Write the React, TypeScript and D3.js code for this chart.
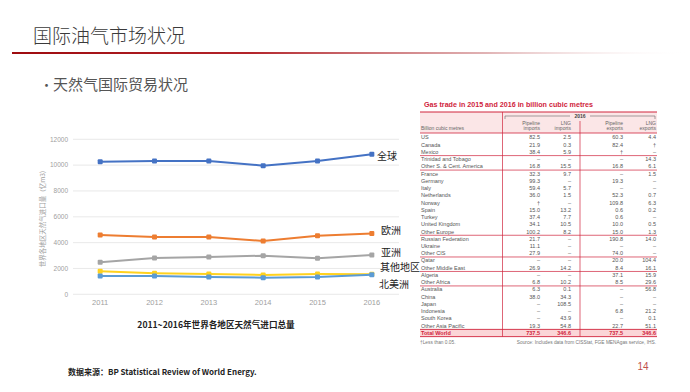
import React from "react";
import * as d3 from "d3";

const years = ["2011", "2012", "2013", "2014", "2015", "2016"];
const seriesNames = ["全球", "欧洲", "亚洲", "其他地区", "北美洲"];
const globalVals = [10270, 10320, 10320, 9960, 10320, 10840];
const europeVals = [4590, 4440, 4440, 4130, 4540, 4700];
const asiaVals = [2480, 2810, 2890, 2990, 2790, 3040];
const otherVals = [1780, 1630, 1570, 1500, 1570, 1550];
const northAmericaVals = [1420, 1420, 1340, 1290, 1340, 1520];
const yTicks = [0, 2000, 4000, 6000, 8000, 10000, 12000];

const tableRows = ["US", "Canada", "Mexico", "Trinidad and Tobago", "Other S. & Cent. America", "France", "Germany", "Italy", "Netherlands", "Norway", "Spain", "Turkey", "United Kingdom", "Other Europe", "Russian Federation", "Ukraine", "Other CIS", "Qatar", "Other Middle East", "Algeria", "Other Africa", "Australia", "China", "Japan", "Indonesia", "South Korea", "Other Asia Pacific", "Total World"];
const pipeImports = ["82.5", "21.9", "38.4", "–", "16.8", "32.3", "99.3", "59.4", "36.0", "†", "15.0", "37.4", "34.1", "100.2", "21.7", "11.1", "27.9", "–", "26.9", "–", "6.8", "6.3", "38.0", "–", "–", "–", "19.3", "737.5"];
const lngImports = ["2.5", "0.3", "5.9", "–", "15.5", "9.7", "–", "5.7", "1.5", "–", "13.2", "7.7", "10.5", "8.2", "–", "–", "–", "–", "14.2", "–", "10.2", "0.1", "34.3", "108.5", "–", "43.9", "54.8", "346.6"];
const pipeExports = ["60.3", "82.4", "†", "–", "16.8", "–", "19.3", "–", "52.3", "109.8", "0.6", "0.6", "10.0", "15.0", "190.8", "–", "74.0", "20.0", "8.4", "37.1", "8.5", "–", "–", "–", "6.8", "–", "22.7", "737.5"];
const lngExports = ["4.4", "†", "–", "14.3", "6.1", "1.5", "–", "–", "0.7", "6.3", "0.2", "–", "0.5", "1.3", "14.0", "–", "–", "104.4", "16.1", "15.9", "29.6", "56.8", "–", "–", "21.2", "0.1", "51.1", "346.6"];
const groupEnds = [2, 4, 13, 16, 18, 20];

const colors = ["#4472C4", "#ED7D31", "#A5A5A5", "#FFD21F", "#5B9BD5"];
const CJK = "'Noto Sans CJK SC', 'Noto Sans', sans-serif";
const LAT = "'Liberation Sans', Arial, sans-serif";

export default function App() {
  const allSeries = [globalVals, europeVals, asiaVals, otherVals, northAmericaVals];
  const x = d3.scaleBand<string>().domain(years).range([73, 399]);
  const y = d3.scaleLinear().domain([0, 12000]).range([294.3, 139.3]);
  const cx = (yr: string) => (x(yr) as number) + x.bandwidth() / 2;
  const line = d3
    .line<number>()
    .x((_, i) => cx(years[i]))
    .y((d) => y(d));

  const labelYs = [159.5, 233.5, 255.5, 270.5, 287.5];
  const labelXs = [377, 381, 381, 380, 379];

  // table layout
  const rowY = d3.scaleLinear().domain([0, tableRows.length - 1]).range([137.5, 333]);
  const rowH = rowY(1) - rowY(0);
  const colX = [540, 571, 623, 656];
  const cols = [pipeImports, lngImports, pipeExports, lngExports];
  const tRed = "#D0243C";
  const totalIdx = tableRows.length - 1;

  return (
    <svg width={690} height={392} style={{ position: "absolute", left: 0, top: 0, background: "#fff" }}>
      <defs>
        <linearGradient id="redline" x1="0" x2="1" y1="0" y2="0">
          <stop offset="0" stopColor="#9E0B0F" />
          <stop offset="0.35" stopColor="#B3242A" />
          <stop offset="0.7" stopColor="#D9A0A2" stopOpacity="0.8" />
          <stop offset="1" stopColor="#ffffff" stopOpacity="0" />
        </linearGradient>
      </defs>
      <rect x={0} y={0} width={690} height={392} fill="#ffffff" />
      {/* Title */}
      <text x={33} y={43} fontFamily={CJK} fontSize={19} fill="#3a3a3a" fontWeight={300}>国际油气市场状况</text>
      <rect x={12} y={52} width={678} height={2} fill="url(#redline)" />
      {/* bullet */}
      <text x={40} y={90} fontFamily={CJK} fontSize={13} fill="#555">•</text>
      <text x={53} y={90} fontFamily={CJK} fontSize={15} fill="#555">天然气国际贸易状况</text>

      {/* chart grid */}
      {yTicks.map((t) => (
        <g key={t}>
          <line x1={73} x2={399} y1={y(t)} y2={y(t)} stroke="#e3e3e3" strokeWidth={0.8} />
          <text x={68} y={y(t) + 2.3} textAnchor="end" fontFamily={LAT} fontSize={6.5} fill="#a0a0a0">{t}</text>
        </g>
      ))}
      {years.map((yr) => (
        <text key={yr} x={cx(yr)} y={305} textAnchor="middle" fontFamily={LAT} fontSize={7.5} fill="#a0a0a0">{yr}</text>
      ))}
      <text transform={`translate(44.5,219) rotate(-90)`} textAnchor="middle" fontFamily={CJK} fontSize={6.5} fill="#a0a0a0">世界各地区天然气进口量（亿m3)</text>

      {allSeries.map((vals, si) => (
        <g key={si}>
          <path d={line(vals) || ""} fill="none" stroke={colors[si]} strokeWidth={2} />
          {vals.map((v, i) => (
            <rect key={i} x={cx(years[i]) - 2.5} y={y(v) - 2.5} width={5} height={5} rx={1} fill={colors[si]} />
          ))}
        </g>
      ))}
      {seriesNames.map((n, i) => (
        <text key={n} x={labelXs[i]} y={labelYs[i]} fontFamily={CJK} fontSize={10} fill="#222">{n}</text>
      ))}

      <text x={216} y={328} textAnchor="middle" fontFamily={CJK} fontSize={8.6} fontWeight={700} fill="#222">2011~2016年世界各地区天然气进口总量</text>
      <text x={68} y={375} fontFamily={CJK} fontSize={8} fontWeight={700} fill="#222">数据来源：BP Statistical Review of World Energy.</text>
      <text x={643} y={370} textAnchor="middle" fontFamily={LAT} fontSize={10} fill="#C0504D">14</text>

      {/* table */}
      <text x={424} y={107} fontFamily={LAT} fontSize={7} fontWeight={700} fill={tRed} textLength={169} lengthAdjust="spacingAndGlyphs">Gas trade in 2015 and 2016 in billion cubic metres</text>
      <rect x={420} y={112} width={237} height={21} fill="#FBE6E7" />
      <line x1={420} x2={657} y1={112} y2={112} stroke={tRed} strokeWidth={1} />
      <line x1={420} x2={657} y1={133} y2={133} stroke={tRed} strokeWidth={0.8} />
      <path d="M505,119 V116 H570 M590,116 H655 V119" fill="none" stroke="#666" strokeWidth={0.6} />
      <text x={580} y={118} textAnchor="middle" fontFamily={LAT} fontSize={5} fontWeight={700} fill="#444">2016</text>
      {[["Pipeline", "imports"], ["LNG", "imports"], ["Pipeline", "exports"], ["LNG", "exports"]].map((h, i) => (
        <g key={i}>
          <text x={colX[i]} y={124.5} textAnchor="end" fontFamily={LAT} fontSize={5} fill="#666">{h[0]}</text>
          <text x={colX[i]} y={129.5} textAnchor="end" fontFamily={LAT} fontSize={5} fill="#666">{h[1]}</text>
        </g>
      ))}
      <text x={421} y={129.5} fontFamily={LAT} fontSize={5} fill="#666">Billion cubic metres</text>
      <rect x={420} y={rowY(totalIdx) - rowH / 2} width={237} height={rowH} fill="#FBD5D7" />
      <line x1={420} x2={657} y1={rowY(totalIdx) - rowH / 2} y2={rowY(totalIdx) - rowH / 2} stroke={tRed} strokeWidth={0.9} />
      <line x1={420} x2={657} y1={rowY(totalIdx) + rowH / 2} y2={rowY(totalIdx) + rowH / 2} stroke={tRed} strokeWidth={0.9} />
      {groupEnds.map((g) => (
        <line key={g} x1={420} x2={657} y1={rowY(g) + rowH / 2} y2={rowY(g) + rowH / 2} stroke={tRed} strokeWidth={0.7} />
      ))}
      <line x1={502.5} x2={502.5} y1={112} y2={rowY(totalIdx) + rowH / 2} stroke={tRed} strokeWidth={0.7} />
      <line x1={580} x2={580} y1={121} y2={rowY(totalIdx) + rowH / 2} stroke={tRed} strokeWidth={0.7} />
      {tableRows.map((r, i) => {
        const isTot = i === totalIdx;
        const fill = isTot ? tRed : "#555";
        const fw = isTot ? 700 : 400;
        return (
          <g key={r}>
            <text x={421} y={rowY(i) + 1.9} fontFamily={LAT} fontSize={5.5} fontWeight={fw} fill={fill}>{r}</text>
            {cols.map((c, ci) => (
              <text key={ci} x={colX[ci]} y={rowY(i) + 1.9} textAnchor="end" fontFamily={LAT} fontSize={5.5} fontWeight={fw} fill={fill}>{c[i]}</text>
            ))}
          </g>
        );
      })}
      <text x={420} y={344} fontFamily={LAT} fontSize={4.8} fill="#777">†Less than 0.05.</text>
      <text x={656} y={344} textAnchor="end" fontFamily={LAT} fontSize={4.8} fill="#777">Source: Includes data from CISStat, FGE MENAgas service, IHS.</text>
    </svg>
  );
}
